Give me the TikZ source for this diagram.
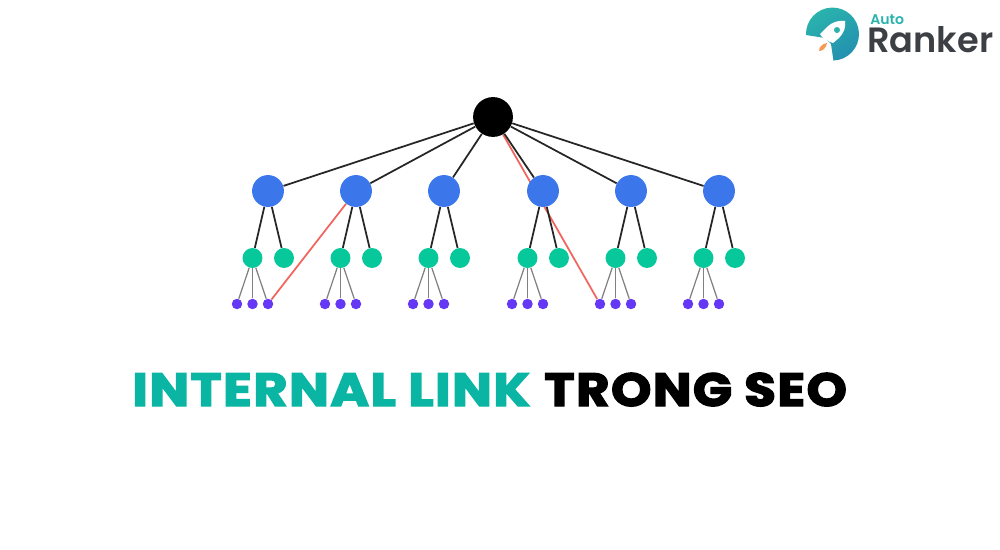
\documentclass[tikz,border=0pt]{standalone}
\usepackage{graphicx}
\usepackage{fontspec}
\usetikzlibrary{backgrounds}
\setmainfont{Poppins}
\newfontfamily\titlefont[FakeBold=3,LetterSpace=3]{Poppins Bold}
\newfontfamily\logofont{Poppins SemiBold}
\definecolor{rootblue}{HTML}{3B76EA}
\definecolor{leafgreen}{HTML}{06C89A}
\definecolor{leafpurple}{HTML}{6538F5}
\definecolor{linkred}{HTML}{F2655F}
\definecolor{titleteal}{HTML}{0BB5A4}
\definecolor{logodark}{HTML}{3C3F44}
\definecolor{logoteal}{HTML}{2AB3AC}
\definecolor{logoblue}{HTML}{2490B0}
\definecolor{flame}{HTML}{F39A55}
\tikzset{
  dot/.style={circle,inner sep=0pt,minimum size=#1},
  edge/.style={line width=1pt,black!85},
  twig/.style={line width=0.7pt,black!50},
  redlink/.style={line width=1pt,linkred},
  titletext/.style={font=\titlefont\fontsize{26.5pt}{30pt}\selectfont,inner sep=0pt},
}
\begin{document}
\begin{tikzpicture}[x=0.02cm,y=-0.02cm]
  \useasboundingbox (0,0) rectangle (1000,550);
  \node[dot=40*0.567pt,fill=black] (root) at (493,117) {};
  % second level
  \foreach \name/\x in {a/268,b/356,c/444,d/543,e/631,f/719} {
    \node[dot=32*0.567pt,fill=rootblue] (\name) at (\x,191) {};
    \node[dot=20*0.567pt,fill=leafgreen] (\name1) at (\x-15.5,258) {};
    \node[dot=20*0.567pt,fill=leafgreen] (\name2) at (\x+16,258) {};
    \node[dot=10.5*0.567pt,fill=leafpurple] (\name p1) at (\x-31,304) {};
    \node[dot=10.5*0.567pt,fill=leafpurple] (\name p2) at (\x-15.5,304) {};
    \node[dot=10.5*0.567pt,fill=leafpurple] (\name p3) at (\x,304) {};
    \draw[edge] (root) -- (\name);
    \draw[edge] (\name) -- (\name1);
    \draw[edge] (\name) -- (\name2);
    \draw[twig] (\name1) -- (\name p1);
    \draw[twig] (\name1) -- (\name p2);
    \draw[twig] (\name1) -- (\name p3);
  }
  % red links
  \begin{scope}[on background layer]
    \draw[redlink] (b) -- (ap3);
    \draw[redlink] (root) -- (ep1);
  \end{scope}
  % title
  \node[titletext,text=titleteal,anchor=base west] (titlea) at (132,406) {\scalebox{1.13}[1]{INTERNAL LINK}};
  \node[titletext,text=black,anchor=base west] (titleb) at (544,406) {\scalebox{1.10}[1]{TRONG SEO}};
  % logo
  \shade[left color=logoteal,right color=logoblue,shading angle=30]
    (806,35) arc (178:448:26.5) -- (831,44) -- (825,38) -- cycle;
  \fill[white] (820,34) -- (827,27) .. controls (832,22) and (839,20) .. (845,21) .. controls (846,27) and (844,33) .. (839,38) -- (833,43) -- (830,42) -- (822,37) -- cycle;
  \fill[logoteal] (837,30) circle (3);
  \fill[flame] (827,43) .. controls (822,44) and (819,47) .. (819,51) .. controls (823,51) and (826,48) .. (827,43) -- cycle;
  \node[font=\logofont\fontsize{8pt}{10pt}\selectfont,text=logoteal,inner sep=0pt,anchor=west] (auto) at (870,20) {Auto};
  \node[font=\logofont\fontsize{20pt}{24pt}\selectfont,text=logodark,inner sep=0pt,anchor=west] (ranker) at (867,40) {Ranker};
\end{tikzpicture}
\end{document}
